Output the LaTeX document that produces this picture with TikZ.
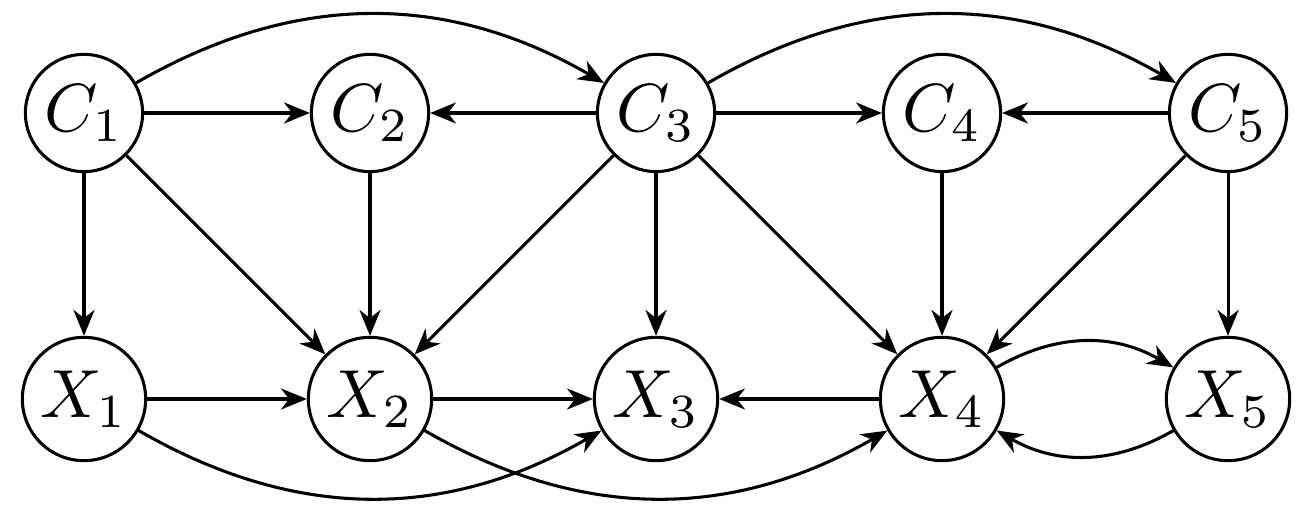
\documentclass[tikz,border=0pt]{standalone}
\usetikzlibrary{arrows.meta}
\begin{document}
\begin{tikzpicture}[x=0.147pt,y=-0.147pt,
  var/.style={draw,circle,line width=0.45pt,inner sep=1.05pt},
  edge/.style={line width=0.45pt,-{Stealth[length=3.8pt,width=3.1pt,inset=1.2pt]}}]
\useasboundingbox (0,0) rectangle (1316,518);
\node[var] (C1) at (84,113) {$C_1$};
\node[var] (C2) at (370,113) {$C_2$};
\node[var] (C3) at (656,113) {$C_3$};
\node[var] (C4) at (942,113) {$C_4$};
\node[var] (C5) at (1228,113) {$C_5$};
\node[var] (X1) at (84,399) {$X_1$};
\node[var] (X2) at (370,399) {$X_2$};
\node[var] (X3) at (656,399) {$X_3$};
\node[var] (X4) at (942,399) {$X_4$};
\node[var] (X5) at (1228,399) {$X_5$};
\draw[edge] (C1) to[bend left=30] (C3);
\draw[edge] (C3) to[bend left=30] (C5);
\draw[edge] (C1) -- (C2);
\draw[edge] (C3) -- (C2);
\draw[edge] (C3) -- (C4);
\draw[edge] (C5) -- (C4);
\draw[edge] (C1) -- (X1);
\draw[edge] (C1) -- (X2);
\draw[edge] (C2) -- (X2);
\draw[edge] (C3) -- (X2);
\draw[edge] (C3) -- (X3);
\draw[edge] (C3) -- (X4);
\draw[edge] (C4) -- (X4);
\draw[edge] (C5) -- (X4);
\draw[edge] (C5) -- (X5);
\draw[edge] (X1) -- (X2);
\draw[edge] (X2) -- (X3);
\draw[edge] (X4) -- (X3);
\draw[edge] (X1) to[bend right=30] (X3);
\draw[edge] (X2) to[bend right=30] (X4);
\draw[edge] (X4) to[bend left=30] (X5);
\draw[edge] (X5) to[bend left=30] (X4);
\end{tikzpicture}
\end{document}
